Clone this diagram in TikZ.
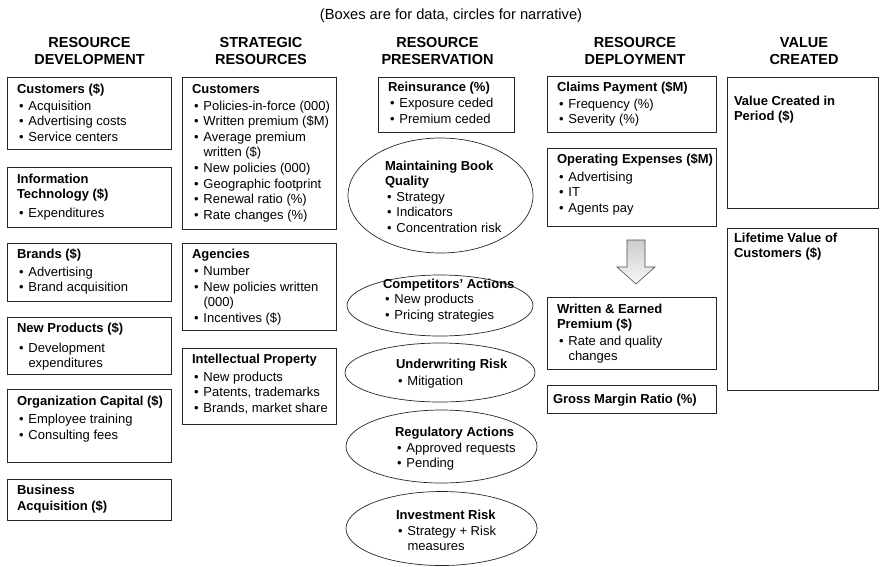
\documentclass[tikz,border=0pt]{standalone}
\usepackage{fontspec}
\setmainfont{Liberation Sans}
\usetikzlibrary{shapes.geometric}

% hanging indent of bullet items
\newlength\bhang
\setlength\bhang{11.5pt}
% bold heading; optional argument = extra space before the bullets
\newcommand\hd[2][1.5pt]{\rule{0pt}{10.5pt}\textbf{#2}\par\vspace{#1}}
% bullet item with hanging indent (use \newline inside for a wrapped line)
\newcommand\bul[1]{\par\hangindent=\bhang\hangafter=1\noindent\makebox[\bhang][l]{\hspace{2pt}\textbullet}#1\par}
% box body: width, height, left inset, first baseline below top, contents
\newcommand\panel[5]{\kern#3\parbox[c][#2][t]{\dimexpr#1-#3\relax}{\raggedright\vspace*{\dimexpr#4-10.5pt\relax}#5}}
% text block set inside an ellipse
\newcommand\etext[1]{\parbox[t]{150pt}{\raggedright #1}}

\begin{document}
\begin{tikzpicture}[x=1pt,y=-1pt,
  every node/.style={inner sep=0pt, outer sep=0pt, font=\fontsize{13}{15.6}\selectfont},
  databox/.style={draw=black!85, line width=0.9pt, anchor=north west},
  story/.style={draw=black!85, line width=0.7pt, ellipse},
  storytext/.style={anchor=north west},
  colhead/.style={font=\fontsize{14.5}{17}\selectfont\bfseries, align=center},
  blockarrow/.style={draw=black!70, line width=0.6pt, top color=black!20, bottom color=black!3},
]
\useasboundingbox (0,0) rectangle (880,566);

% caption and column headings
\node[font=\fontsize{14.7}{17}\selectfont] (title) at (451,16) {(Boxes are for data, circles for narrative)};
\node[colhead] (hdev) at (89.5,51) {RESOURCE\\DEVELOPMENT};
\node[colhead] (hstr) at (261,51) {STRATEGIC\\RESOURCES};
\node[colhead] (hpre) at (437.5,51) {RESOURCE\\PRESERVATION};
\node[colhead] (hdep) at (635,51) {RESOURCE\\DEPLOYMENT};
\node[colhead] (hval) at (804,51) {VALUE\\CREATED};

% resource development
\node[databox] (devcust) at (7,77) {\panel{164pt}{72pt}{10pt}{16pt}{%
  \hd{Customers (\$)}\bul{Acquisition}\bul{Advertising costs}\bul{Service centers}}};
\node[databox] (devit) at (7,167) {\panel{164pt}{60pt}{10pt}{16pt}{%
  \hd[3pt]{Information\\Technology (\$)}\bul{Expenditures}}};
\node[databox] (devbrand) at (7,243) {\panel{164pt}{58pt}{10pt}{15.5pt}{%
  \hd[2pt]{Brands (\$)}\bul{Advertising}\bul{Brand acquisition}}};
\node[databox] (devprod) at (7,317) {\panel{164pt}{57pt}{10pt}{15.5pt}{%
  \hd[4pt]{New Products (\$)}\bul{Development\newline expenditures}}};
\node[databox] (devorg) at (7,389) {\panel{164pt}{73pt}{10pt}{16.5pt}{%
  \hd[2.5pt]{Organization Capital (\$)}\bul{Employee training}\bul{Consulting fees}}};
\node[databox] (devbiz) at (7,479) {\panel{164pt}{41pt}{10pt}{15.5pt}{%
  \hd[0pt]{Business\\Acquisition (\$)}}};

% strategic resources
\node[databox] (stcust) at (182,77) {\panel{154pt}{152pt}{10pt}{16pt}{%
  \hd{Customers}\bul{Policies-in-force (000)}\bul{Written premium (\$M)}%
  \bul{Average premium\newline written (\$)}\bul{New policies (000)}\bul{Geographic footprint}%
  \bul{Renewal ratio (\%)}\bul{Rate changes (\%)}}};
\node[databox] (stagen) at (182,243) {\panel{154pt}{87pt}{10pt}{15.5pt}{%
  \hd{Agencies}\bul{Number}\bul{New policies written\newline (000)}\bul{Incentives (\$)}}};
\node[databox] (stip) at (182,348) {\panel{154pt}{76pt}{10pt}{15.5pt}{%
  \hd[2pt]{Intellectual Property}\bul{New products}\bul{Patents, trademarks}\bul{Brands, market share}}};

% resource preservation
\node[databox] (reins) at (378,77) {\panel{136pt}{55pt}{10pt}{14.5pt}{%
  \hd[0.5pt]{Reinsurance (\%)}\bul{Exposure ceded}\bul{Premium ceded}}};

\node[story, minimum width=185pt, minimum height=115pt] (book) at (440.5,195.5) {};
\node[storytext] (booktext) at (385,159.5) {\etext{%
  \hd[0pt]{Maintaining Book\\Quality}\bul{Strategy}\bul{Indicators}\bul{Concentration risk}}};

\node[story, minimum width=186pt, minimum height=61pt] (comp) at (440,305.5) {};
\node[storytext] (comptext) at (383,277.5) {\etext{%
  \hd[0pt]{Competitors’ Actions}\bul{New products}\bul{Pricing strategies}}};

\node[story, minimum width=190pt, minimum height=59pt] (uw) at (440,372.5) {};
\node[storytext] (uwtext) at (396,357.5) {\etext{%
  \hd[1.5pt]{Underwriting Risk}\bul{Mitigation}}};

\node[story, minimum width=191pt, minimum height=73pt] (reg) at (441.5,446.5) {};
\node[storytext] (regtext) at (395,425.5) {\etext{%
  \hd[0.5pt]{Regulatory Actions}\bul{Approved requests}\bul{Pending}}};

\node[story, minimum width=191pt, minimum height=74pt] (inv) at (441.5,528.5) {};
\node[storytext] (invtext) at (396,508.5) {\etext{%
  \hd[0.5pt]{Investment Risk}\bul{Strategy + Risk\newline measures}}};

% resource deployment
\node[databox] (claims) at (547,76) {\panel{169pt}{56pt}{10pt}{15pt}{%
  \hd{Claims Payment (\$M)}\bul{Frequency (\%)}\bul{Severity (\%)}}};
\node[databox] (opex) at (547,148) {\panel{169pt}{78pt}{10pt}{15pt}{%
  \hd[2.5pt]{Operating Expenses (\$M)}\bul{Advertising}\bul{IT}\bul{Agents pay}}};
\node[databox] (wep) at (547,297) {\panel{169pt}{72pt}{10pt}{16pt}{%
  \hd[1pt]{Written \& Earned\\Premium (\$)}\bul{Rate and quality\newline changes}}};
\node[databox] (gmr) at (547,385) {\panel{169pt}{28pt}{6pt}{18pt}{%
  \hd[0pt]{Gross Margin Ratio (\%)}}};

% block arrow between the deployment boxes
\path[blockarrow] (627,240) -- (645,240) -- (645,267) -- (655,267) -- (636,284)
  -- (617,267) -- (627,267) -- cycle;

% value created
\node[databox] (valper) at (727,77) {\panel{151.5pt}{131pt}{7pt}{28pt}{%
  \hd[0pt]{Value Created in\\Period (\$)}}};
\node[databox] (lifetime) at (727,228) {\panel{151.5pt}{162pt}{7pt}{14pt}{%
  \hd[0pt]{Lifetime Value of\\Customers (\$)}}};
\end{tikzpicture}
\end{document}
